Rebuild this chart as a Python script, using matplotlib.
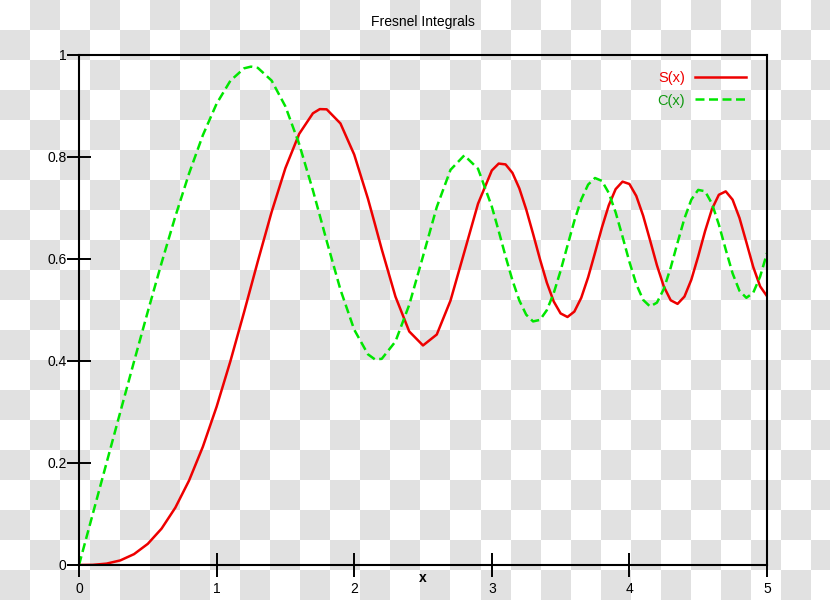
import numpy as np
import matplotlib
matplotlib.use("Agg")
import matplotlib.pyplot as plt

# Values (S(x) and C(x) curves)
x = [0.0, 0.1, 0.2, 0.3, 0.4, 0.5, 0.6, 0.7, 0.8, 0.9,
     1.0, 1.1, 1.2, 1.25, 1.3, 1.4, 1.5, 1.6, 1.7, 1.75, 1.8, 1.9,
     2.0, 2.1, 2.15, 2.2, 2.3, 2.4, 2.5, 2.6, 2.7, 2.8, 2.9,
     3.0, 3.05, 3.1, 3.15, 3.2, 3.25, 3.3, 3.35, 3.4, 3.45,
     3.5, 3.55, 3.6, 3.65, 3.7, 3.75, 3.8, 3.85, 3.9, 3.95,
     4.0, 4.05, 4.1, 4.15, 4.2, 4.25, 4.3, 4.35, 4.4, 4.45,
     4.5, 4.55, 4.6, 4.65, 4.7, 4.75, 4.8, 4.85, 4.9, 4.95, 5.0]

s_vals = [0.0, 0.0003, 0.0027, 0.0090, 0.0213, 0.0415, 0.0713, 0.1124, 0.1657, 0.2318,
          0.3103, 0.3994, 0.4961, 0.5460, 0.5959, 0.6924, 0.7782, 0.8453, 0.8857, 0.8939, 0.8935, 0.8658,
          0.8048, 0.7181, 0.6691, 0.6192, 0.5261, 0.4579, 0.4305, 0.4519, 0.5186, 0.6133, 0.7085,
          0.7736, 0.7871, 0.7855, 0.7689, 0.7385, 0.6972, 0.6493, 0.5996, 0.5536, 0.5167,
          0.4933, 0.4863, 0.4969, 0.5239, 0.5641, 0.6121, 0.6615, 0.7052, 0.7370, 0.7517,
          0.7471, 0.7236, 0.6848, 0.6369, 0.5878, 0.5461, 0.5191, 0.5120, 0.5263, 0.5594,
          0.6052, 0.6547, 0.6979, 0.7259, 0.7326, 0.7163, 0.6805, 0.6329, 0.5844, 0.5464, 0.5271]

c_vals = [0.0, 0.1000, 0.2000, 0.2998, 0.3990, 0.4969, 0.5923, 0.6834, 0.7678, 0.8427,
          0.9045, 0.9495, 0.9739, 0.9772, 0.9747, 0.9498, 0.8992, 0.8255, 0.7346, 0.6853, 0.6354, 0.5399,
          0.4615, 0.4131, 0.4033, 0.4042, 0.4383, 0.5102, 0.6053, 0.7018, 0.7749, 0.8032, 0.7769,
          0.7029, 0.6549, 0.6051, 0.5582, 0.5187, 0.4908, 0.4776, 0.4806, 0.4997, 0.5331,
          0.5770, 0.6263, 0.6749, 0.7166, 0.7459, 0.7588, 0.7532, 0.7296, 0.6914, 0.6439,
          0.5945, 0.5507, 0.5198, 0.5069, 0.5144, 0.5412, 0.5829, 0.6320, 0.6795, 0.7164,
          0.7355, 0.7328, 0.7085, 0.6676, 0.6186, 0.5718, 0.5376, 0.5239, 0.5339, 0.5655, 0.6115]

xticks = [0, 1, 2, 3, 4, 5]
yticks = [0, 0.2, 0.4, 0.6, 0.8, 1]
ytick_labels = ['0', '0.2', '0.4', '0.6', '0.8', '1']

plt.rcParams['font.family'] = ['Liberation Sans', 'DejaVu Sans']

fig = plt.figure(figsize=(8.3, 6), dpi=100)

# checkerboard background (transparent-image look)
bg = fig.add_axes([0, 0, 1, 1], zorder=-1)
ii, jj = np.meshgrid(np.arange(28), np.arange(20))
checker = (ii + jj) % 2
bg.imshow(checker, cmap=matplotlib.colors.ListedColormap(['white', '#e1e1e1']),
          extent=[0, 840, 600, 0], interpolation='nearest', aspect='auto')
bg.set_xlim(0, 830)
bg.set_ylim(600, 0)
bg.axis('off')

ax = fig.add_axes([79 / 830, 35 / 600, 688 / 830, 510 / 600])
ax.set_facecolor('none')

ax.plot(x, s_vals, color='#ee0000', lw=1.8, label='S(x)')
ax.plot(x, c_vals, color='#00e600', lw=1.8, linestyle=(0, (3.6, 1.8)), label='C(x)')

ax.set_xlim(0, 5)
ax.set_ylim(0, 1)
ax.set_xticks(xticks)
ax.set_yticks(yticks)
ax.set_yticklabels(ytick_labels)
ax.tick_params(axis='both', direction='inout', length=17, width=1.4, labelsize=10,
               colors='black')
ax.tick_params(axis='x', pad=4)
ax.tick_params(axis='y', pad=0.5)
for sp in ax.spines.values():
    sp.set_linewidth(1.5)
    sp.set_color('black')

ax.set_title('Fresnel Integrals', fontsize=10, pad=21)
ax.set_xlabel('x', fontsize=10, fontweight='bold')
ax.xaxis.set_label_coords(0.5, -0.012)

leg = ax.legend(loc='upper right', bbox_to_anchor=(0.9695, 0.969), frameon=False,
                markerfirst=False, fontsize=10.5, handlelength=3.5, handletextpad=0.7,
                borderaxespad=0, borderpad=0, labelspacing=0.6)
for txt, col in zip(leg.get_texts(), ['#ee0000', '#119911']):
    txt.set_color(col)

fig.savefig('out.png', dpi=100)
